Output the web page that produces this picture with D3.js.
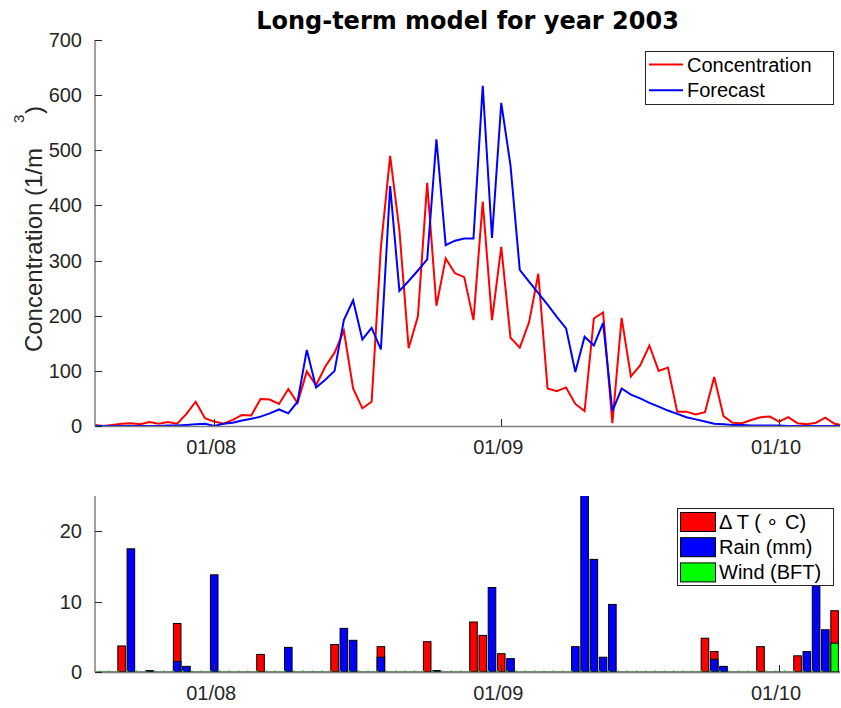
<!DOCTYPE html>
<html>
<head>
<meta charset="utf-8">
<script src="https://cdn.jsdelivr.net/npm/d3@7/dist/d3.min.js"></script>
<style>
body { margin: 0; background: #fff; }
text { font-family: "Liberation Sans", Arial, Helvetica, sans-serif; fill: #262626; }
</style>
</head>
<body>
<script>
// Width and height
var w = 841;
var h = 708;

// Data: one value per day, first day 19 July 2003
var firstDay = "2003-07-19";
var concentration = [
  2, 0, 2, 4, 5, 3, 7, 4, 7, 4,
  22, 44, 14, 8, 4, 11, 20, 19, 49, 48,
  40, 67, 42, 99, 74, 108, 133, 173, 68, 32,
  44, 324, 490, 355, 141, 199, 441, 218, 304, 277,
  270, 192, 407, 192, 325, 160, 142, 188, 276, 68,
  63, 70, 40, 27, 195, 206, 5, 196, 90, 110,
  146, 100, 106, 26, 26, 21, 25, 89, 18, 6,
  5, 11, 16, 17, 8, 16, 5, 3, 6, 15,
  4, 1
];
var forecast = [
  0, 0, 0, 0, 0, 0, 0, 0, 1, 1,
  2, 3, 4, 0, 4, 6, 10, 13, 17, 23,
  30, 23, 44, 138, 70, 84, 100, 192, 228, 157,
  178, 139, 435, 245, 263, 282, 302, 520, 328, 336,
  340, 340, 617, 341, 586, 472, 283, 262, 241, 220,
  198, 177, 98, 162, 146, 187, 27, 68, 57, 50,
  42, 35, 28, 22, 16, 12, 8, 4, 3, 2,
  2, 1, 1, 1, 1, 0, 0, 0, 0, 0,
  0, 0
];
var deltaT = [
  0, 0, 0, 3.7, 0, 0, 0, 0, 0, 6.9,
  0, 0, 0, 0, 0, 0, 0, 0, 2.5, 0,
  0, 0, 0, 0, 0, 0, 3.9, 0, 0, 0,
  0, 3.6, 0, 0, 0, 0, 4.3, 0, 0, 0,
  0, 7.1, 5.2, 0, 2.6, 0, 0, 0, 0, 0,
  0, 0, 0, 0, 0, 0, 0, 0, 0, 0,
  0, 0, 0, 0, 0, 0, 4.8, 2.9, 0, 0,
  0, 0, 3.6, 0, 0, 0, 2.3, 0, 0, 0,
  8.7, 0
];
var rain = [
  0, 0, 0, 0, 17.5, 0, 0.2, 0, 0, 1.5,
  0.8, 0, 0, 13.8, 0, 0, 0, 0, 0, 0,
  0, 3.5, 0, 0, 0, 0, 0, 6.2, 4.5, 0,
  0, 2.1, 0, 0, 0, 0, 0, 0.2, 0, 0,
  0, 0, 0, 12.0, 0, 1.9, 0, 0, 0, 0,
  0, 0, 3.6, 27, 16.0, 2.1, 9.6, 0, 0, 0,
  0, 0, 0, 0, 0, 0, 0, 1.8, 0.8, 0,
  0, 0, 0, 0, 0, 0, 0, 2.9, 13.5, 6.0,
  0, 0
];
var wind = [
  0, 0, 0, 0, 0, 0, 0, 0, 0, 0,
  0, 0, 0, 0, 0, 0, 0, 0, 0, 0,
  0, 0, 0, 0, 0, 0, 0, 0, 0, 0,
  0, 0, 0, 0, 0, 0, 0, 0, 0, 0,
  0, 0, 0, 0, 0, 0, 0, 0, 0, 0,
  0, 0, 0, 0, 0, 0, 0, 0, 0, 0,
  0, 0, 0, 0, 0, 0, 0, 0, 0, 0,
  0, 0, 0, 0, 0, 0, 0, 0, 0, 0,
  4.1, 0
];
var tickDates = ["2003-08-01", "2003-09-01", "2003-10-01"];
var tickLabels = ["01/08", "01/09", "01/10"];
var concTicks = [0, 100, 200, 300, 400, 500, 600, 700];
var barTicks = [0, 10, 20];

var parse = d3.timeParse("%Y-%m-%d");
var start = parse(firstDay);
var days = concentration.map(function(d, i) { return d3.timeDay.offset(start, i); });

// Scales
var x = d3.scaleTime()
          .domain([new Date(2003, 6, 19, 3), new Date(2003, 9, 7, 14)])
          .range([95, 840]);
var yTop = d3.scaleLinear().domain([0, 700]).range([426, 40]);
var yBot = d3.scaleLinear().domain([0, 25]).range([672, 496]);

var svg = d3.select("body")
            .append("svg")
            .attr("width", w)
            .attr("height", h);

var defs = svg.append("defs");
defs.append("clipPath").attr("id", "clipTop")
    .append("rect").attr("x", 95).attr("y", 0).attr("width", 745).attr("height", 430);
defs.append("clipPath").attr("id", "clipBot")
    .append("rect").attr("x", 95).attr("y", 496).attr("width", 745).attr("height", 178);

// Title
svg.append("text")
   .attr("x", 467.5)
   .attr("y", 29)
   .attr("text-anchor", "middle")
   .attr("font-size", "24px")
   .attr("font-weight", "bold")
   .style("font-family", "'DejaVu Sans', sans-serif")
   .style("fill", "#000")
   .text("Long-term model for year 2003");

// ---------- top panel ----------
var line = function(vals) {
  return d3.line()
           .x(function(d, i) { return x(days[i]); })
           .y(function(d) { return yTop(d); })(vals);
};

var topPanel = svg.append("g");
topPanel.append("path")
   .attr("d", line(concentration))
   .attr("clip-path", "url(#clipTop)")
   .attr("fill", "none")
   .attr("stroke", "#ff0000")
   .attr("stroke-width", 2);
topPanel.append("path")
   .attr("d", line(forecast))
   .attr("clip-path", "url(#clipTop)")
   .attr("fill", "none")
   .attr("stroke", "#0000ff")
   .attr("stroke-width", 2);

function drawAxes(g, yScale, yTicks, y0, y1) {
  // axis lines
  g.append("line").attr("x1", 95).attr("x2", 95).attr("y1", y1).attr("y2", y0)
   .attr("stroke", "#808080").attr("stroke-width", 1.5);
  g.append("line").attr("x1", 95).attr("x2", 840).attr("y1", y0 + 0.5).attr("y2", y0 + 0.5)
   .attr("stroke", "#808080").attr("stroke-width", 1.5);
  // y ticks
  g.selectAll(".yt").data(yTicks).enter().append("line")
   .attr("x1", 95).attr("x2", 102)
   .attr("y1", function(d) { return Math.round(yScale(d)) + 0.5; })
   .attr("y2", function(d) { return Math.round(yScale(d)) + 0.5; })
   .attr("stroke", "#262626");
  g.selectAll(".yl").data(yTicks).enter().append("text")
   .attr("x", 82)
   .attr("y", function(d) { return yScale(d); })
   .attr("dy", "0.35em")
   .attr("text-anchor", "end")
   .attr("font-size", "20px")
   .text(function(d) { return d; });
  // x ticks
  g.selectAll(".xt").data(tickDates).enter().append("line")
   .attr("x1", function(d) { return Math.round(x(parse(d))) + 0.5; })
   .attr("x2", function(d) { return Math.round(x(parse(d))) + 0.5; })
   .attr("y1", y0).attr("y2", y0 - 7)
   .attr("stroke", "#262626");
  g.selectAll(".xl").data(tickDates).enter().append("text")
   .attr("x", function(d) { return x(parse(d)) - 3; })
   .attr("y", y0 + 28)
   .attr("text-anchor", "middle")
   .attr("font-size", "20px")
   .text(function(d, i) { return tickLabels[i]; });
}

drawAxes(topPanel, yTop, concTicks, 426, 40);

// y label
var ylab = svg.append("g").attr("transform", "translate(42,148) rotate(-90)");
ylab.append("text")
    .attr("x", 0).attr("y", 0)
    .attr("text-anchor", "end")
    .attr("font-size", "24px")
    .text("Concentration (1/m");
ylab.append("text")
    .attr("x", 25).attr("y", -18)
    .attr("font-size", "15px")
    .text("3");
ylab.append("text")
    .attr("x", 34).attr("y", 0)
    .attr("font-size", "24px")
    .text(")");

// top legend
var leg1 = svg.append("g");
leg1.append("rect").attr("x", 645.5).attr("y", 51.5).attr("width", 188).attr("height", 53)
    .attr("fill", "#fff").attr("stroke", "#262626");
var legItems1 = [["Concentration", "#ff0000"], ["Forecast", "#0000ff"]];
leg1.selectAll(".ll").data(legItems1).enter().append("line")
    .attr("x1", 649).attr("x2", 683)
    .attr("y1", function(d, i) { return 64.5 + i * 25.7; })
    .attr("y2", function(d, i) { return 64.5 + i * 25.7; })
    .attr("stroke", function(d) { return d[1]; })
    .attr("stroke-width", 2);
leg1.selectAll(".lt").data(legItems1).enter().append("text")
    .attr("x", 687)
    .attr("y", function(d, i) { return 64.5 + i * 25.7; })
    .attr("dy", "0.35em")
    .attr("font-size", "20px")
    .style("fill", "#000")
    .text(function(d) { return d[0]; });

// ---------- bottom panel ----------
var botPanel = svg.append("g");
var dayW = x(days[1]) - x(days[0]);
var bw = dayW * 0.82;
var bars = botPanel.append("g").attr("clip-path", "url(#clipBot)");

function drawBars(vals, color) {
  var idx = vals.map(function(v, i) { return i; }).filter(function(i) { return vals[i] > 0; });
  bars.selectAll(null).data(idx).enter().append("rect")
      .attr("x", function(i) { return x(days[i]) - bw / 2; })
      .attr("y", function(i) { return yBot(vals[i]); })
      .attr("width", bw)
      .attr("height", function(i) { return yBot(0) - yBot(vals[i]); })
      .attr("fill", color)
      .attr("stroke", "#000")
      .attr("stroke-width", 1);
}

drawAxes(botPanel, yBot, barTicks, 672, 496);
drawBars(deltaT, "#ff0000");
drawBars(rain, "#0000ff");
drawBars(wind, "#00ff00");

// zero-height bars leave a dark baseline with green specks
bars.append("line").attr("x1", 95).attr("x2", 840).attr("y1", 672).attr("y2", 672)
    .attr("stroke", "#000").attr("stroke-width", 1);
var zeroWind = wind.map(function(v, i) { return i; }).filter(function(i) { return wind[i] === 0; });
bars.selectAll(".gz").data(zeroWind).enter().append("rect")
    .attr("x", function(i) { return x(days[i]) - bw / 2 - 0.5; })
    .attr("y", 670.5)
    .attr("width", 1.5)
    .attr("height", 1.5)
    .attr("fill", "#00cc00");

// bottom legend
var leg2 = svg.append("g");
leg2.append("rect").attr("x", 677.5).attr("y", 508.5).attr("width", 156).attr("height", 77)
    .attr("fill", "#fff").attr("stroke", "#262626");
var legItems2 = [["\u0394 T ( \u2218 C)", "#ff0000"], ["Rain (mm)", "#0000ff"], ["Wind (BFT)", "#00ff00"]];
leg2.selectAll(".lp").data(legItems2).enter().append("rect")
    .attr("x", 680.5)
    .attr("y", function(d, i) { return 512.5 + i * 25.2; })
    .attr("width", 35)
    .attr("height", 19)
    .attr("fill", function(d) { return d[1]; })
    .attr("stroke", "#000");
leg2.selectAll(".lt").data(legItems2).enter().append("text")
    .attr("x", 719)
    .attr("y", function(d, i) { return 522 + i * 25.2; })
    .attr("dy", "0.35em")
    .attr("font-size", "20px")
    .style("fill", "#000")
    .text(function(d) { return d[0]; });
</script>
</body>
</html>
